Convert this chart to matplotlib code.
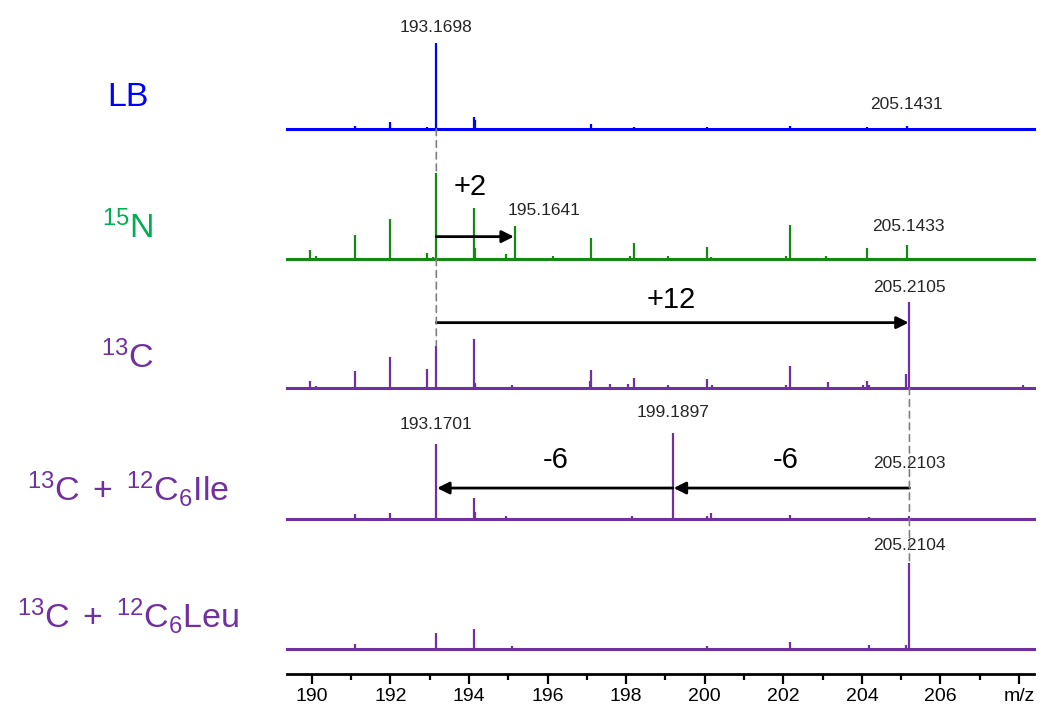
import matplotlib
matplotlib.use("Agg")
import matplotlib.pyplot as plt
from matplotlib.patches import ConnectionPatch

# ---- spectra (m/z, relative intensity %) ----
lb_mz = [191.09, 191.98, 192.94, 193.1698, 194.12, 194.15, 197.11, 198.19, 200.06, 202.16, 204.12, 205.1431]
lb_int = [3.5, 8.6, 2.0, 100, 14, 10, 5.5, 2.0, 2.0, 3.5, 2.0, 3.5]

n15_mz = [189.96, 190.12, 191.02, 191.09, 191.98, 192.94, 193.08, 193.17, 194.12, 194.16,
          194.94, 195.1641, 196.14, 196.95, 197.11, 198.10, 198.19, 199.07, 200.06, 200.16,
          202.07, 202.16, 203.09, 204.12, 205.1433, 205.98, 207.00, 207.97, 208.11]
n15_int = [11, 3, 1, 28, 47, 7.5, 2, 100, 59, 13,
           5.5, 38, 3, 1.5, 24, 3, 19, 3, 14, 2,
           4, 40, 3, 12.6, 16, 1.5, 1.5, 1.5, 1.5]

c13_mz = [189.96, 190.12, 191.09, 191.98, 192.12, 192.94, 193.17, 193.91, 194.12, 194.16,
          195.10, 197.07, 197.11, 197.60, 198.06, 198.19, 199.07, 200.06, 200.19, 202.07,
          202.16, 203.15, 204.04, 204.12, 204.18, 204.98, 205.11, 205.2105, 206.10, 208.11]
c13_int = [8.3, 2, 20, 35.5, 1.5, 22, 49, 1.5, 57, 6,
           3, 8, 21, 5, 5, 11.5, 3, 10, 3, 3,
           26, 6.7, 3, 8, 3, 1, 16, 100, 1, 3]

ile_mz = [191.09, 191.98, 193.1701, 194.12, 194.16, 194.94, 197.13, 198.16, 199.1897, 200.06,
          200.16, 202.16, 204.18, 205.11, 205.2103]
ile_int = [5.5, 7.5, 87, 25, 8.6, 3, 1.5, 3, 100, 3.5,
           7, 5, 2, 1.5, 3.5]

leu_mz = [191.09, 191.98, 193.17, 194.12, 194.94, 195.10, 197.11, 200.06, 202.16, 203.15,
          204.18, 205.11, 205.2104]
leu_int = [6.2, 1.7, 18.6, 23.5, 1.7, 3, 1.7, 3, 8.3, 1.7,
           5, 5, 100]

sample_names = ["LB", r"$\mathregular{^{15}N}$", r"$\mathregular{^{13}C}$",
                r"$\mathregular{^{13}C\;+\;^{12}C_6Ile}$", r"$\mathregular{^{13}C\;+\;^{12}C_6Leu}$"]
x_ticks = [190, 192, 194, 196, 198, 200, 202, 204, 206, 208]
x_tick_labels = ["190", "192", "194", "196", "198", "200", "202", "204", "206", "m/z"]

BLUE = "#0000FF"
GREEN_LINE = "#148A14"
GREEN_TEXT = "#00B050"
PURPLE = "#7030A0"

plt.rcParams["font.family"] = ["Liberation Sans", "DejaVu Sans"]
plt.rcParams["mathtext.fontset"] = "custom"
plt.rcParams["mathtext.rm"] = "Liberation Sans"
plt.rcParams["mathtext.it"] = "Liberation Sans"

W, H = 1041, 709
fig = plt.figure(figsize=(W / 100, H / 100), dpi=100)

XMIN, XMAX = 189.37, 208.38
left = 287 / W
width = (1034 - 287) / W
baselines = [129, 259, 388, 519, 649]
label_y = [98, 228, 358, 489, 616]
full = 86  # pixel height of 100 %

panels = [
    (lb_mz, lb_int, BLUE, BLUE),
    (n15_mz, n15_int, GREEN_LINE, GREEN_TEXT),
    (c13_mz, c13_int, PURPLE, PURPLE),
    (ile_mz, ile_int, PURPLE, PURPLE),
    (leu_mz, leu_int, PURPLE, PURPLE),
]

axes = []
for (mz, inten, lc, tc), b, ly, name in zip(panels, baselines, label_y, sample_names):
    ax = fig.add_axes([left, 1 - b / H, width, full / H])
    ax.set_xlim(XMIN, XMAX)
    ax.set_ylim(0, 100)
    ax.axis("off")
    ax.vlines(mz, 0, inten, color=lc, lw=1.6, zorder=3, clip_on=False)
    ax.axhline(0, color=lc, lw=2.2, zorder=3, clip_on=False)
    fig.text(128 / W, 1 - ly / H, name, color=tc, fontsize=24.5,
             ha="center", va="center")
    axes.append(ax)

ax_lb, ax_n, ax_c, ax_ile, ax_leu = axes

lab = dict(fontsize=12.5, color="#262626", clip_on=False)

# peak labels
ax_lb.text(lb_mz[3], 118, "193.1698", ha="center", va="center", **lab)
ax_lb.text(lb_mz[-1], 28, "205.1431", ha="center", va="center", **lab)
ax_n.text(n15_mz[11] - 0.18, 56, "195.1641", ha="left", va="center", **lab)
ax_n.text(n15_mz[24] + 0.05, 38, "205.1433", ha="center", va="center", **lab)
ax_c.text(c13_mz[27], 117, "205.2105", ha="center", va="center", **lab)
ax_ile.text(ile_mz[2], 110, "193.1701", ha="center", va="center", **lab)
ax_ile.text(ile_mz[8], 124, "199.1897", ha="center", va="center", **lab)
ax_ile.text(ile_mz[-1], 64, "205.2103", ha="center", va="center", **lab)
ax_leu.text(leu_mz[-1], 120, "205.2104", ha="center", va="center", **lab)

# mass-shift arrows
arw = dict(arrowstyle="-|>", color="black", lw=2, mutation_scale=18, shrinkA=0, shrinkB=0)
shift = dict(fontsize=21, ha="center", va="center")
ax_n.annotate("", xy=(n15_mz[11] - 0.02, 26), xytext=(n15_mz[7], 26), arrowprops=arw, zorder=4)
ax_n.text(194.03, 84, "+2", **shift)
ax_c.annotate("", xy=(c13_mz[27] - 0.02, 76), xytext=(c13_mz[6], 76), arrowprops=arw, zorder=4)
ax_c.text(199.15, 102, "+12", **shift)
ax_ile.annotate("", xy=(ile_mz[2] + 0.02, 36), xytext=(ile_mz[8], 36), arrowprops=arw, zorder=4)
ax_ile.annotate("", xy=(ile_mz[8] + 0.02, 36), xytext=(ile_mz[-1], 36), arrowprops=arw, zorder=4)
ax_ile.text(196.22, 69, "-6", **shift)
ax_ile.text(202.05, 69, "-6", **shift)

# dashed guide lines
dash = dict(color="#808080", lw=1.2, linestyle=(0, (4, 3)), zorder=1)
for (a1, x1, y1, a2, y2) in [
    (ax_lb, 193.17, 0, ax_n, n15_int[7]),
    (ax_n, 193.17, 0, ax_c, c13_int[6]),
    (ax_c, 205.21, 0, ax_ile, ile_int[-1]),
    (ax_ile, 205.21, 0, ax_leu, leu_int[-1]),
]:
    cp = ConnectionPatch(xyA=(x1, y1), coordsA=a1.transData,
                         xyB=(x1, y2), coordsB=a2.transData, **dash)
    fig.add_artist(cp)

# m/z axis
axx = fig.add_axes([left, 1 - 674 / H, width, 0.001])
axx.set_xlim(XMIN, XMAX)
for s in ["top", "left", "right"]:
    axx.spines[s].set_visible(False)
axx.spines["bottom"].set_linewidth(2)
axx.set_yticks([])
axx.set_xticks(x_ticks)
axx.set_xticklabels(x_tick_labels, fontsize=14)
axx.set_xticks(range(191, 209, 2), minor=True)
axx.tick_params(axis="x", which="major", direction="out", length=7, width=1.6, pad=3)
axx.tick_params(axis="x", which="minor", direction="out", length=4, width=1.6)

fig.savefig("out.png", dpi=100)
